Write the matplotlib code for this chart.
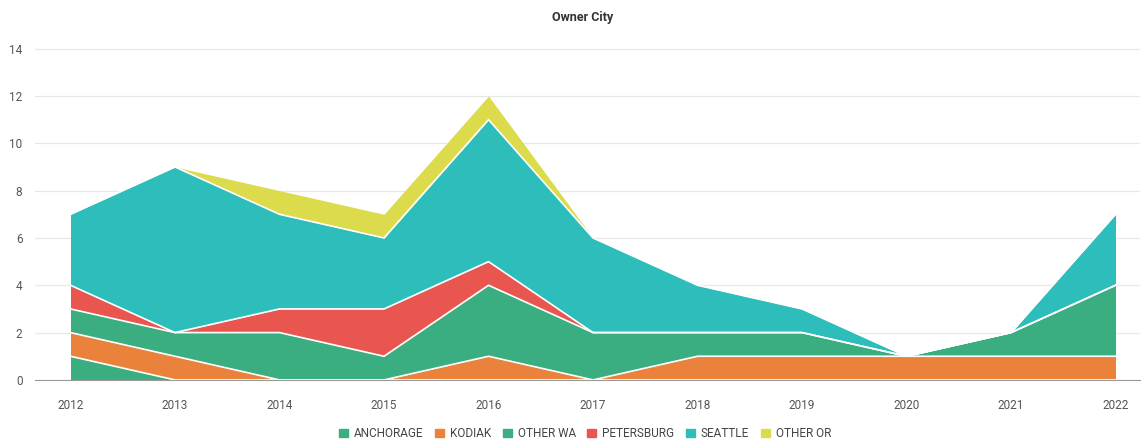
import matplotlib.pyplot as plt
import matplotlib.patches as mpatches
import numpy as np

plt.rcParams['font.family'] = ['Roboto', 'DejaVu Sans']

years = [2012, 2013, 2014, 2015, 2016, 2017, 2018, 2019, 2020, 2021, 2022]
anchorage = [1, 0, 0, 0, 0, 0, 0, 0, 0, 0, 0]
kodiak = [1, 1, 0, 0, 1, 0, 1, 1, 1, 1, 1]
other_wa = [1, 1, 2, 1, 3, 2, 1, 1, 0, 1, 3]
petersburg = [1, 0, 1, 2, 1, 0, 0, 0, 0, 0, 0]
seattle = [3, 7, 4, 3, 6, 4, 2, 1, 0, 0, 3]
other_or = [0, 0, 1, 1, 1, 0, 0, 0, 0, 0, 0]

names = ['ANCHORAGE', 'KODIAK', 'OTHER WA', 'PETERSBURG', 'SEATTLE', 'OTHER OR']
series = [anchorage, kodiak, other_wa, petersburg, seattle, other_or]
colors = ['#3aae80', '#ea823c', '#3aae80', '#e8564f', '#2dbdba', '#dcdb4c']

fig = plt.figure(figsize=(11.47, 4.48), dpi=100)
ax = fig.add_axes([0.0305, 0.152, 0.963, 0.742])

x = np.array(years)
base = np.zeros(len(years))
for vals, c in zip(series, colors):
    top = base + np.array(vals)
    ax.fill_between(x, base, top, color=c, linewidth=0, zorder=2)
    base = top

# white separators between the stacked layers
base = np.zeros(len(years))
for vals in series[:-1]:
    base = base + np.array(vals)
    ax.plot(x, base, color='white', lw=1.2, zorder=3)

ax.set_xlim(2011.66, 2022.23)
ax.set_ylim(0, 14.05)
ax.set_yticks(range(0, 15, 2))
ax.set_xticks(years)
ax.grid(axis='y', color='#e8e8e8', lw=0.9, zorder=0)
ax.set_axisbelow(True)
for s in ['top', 'right', 'left']:
    ax.spines[s].set_visible(False)
ax.spines['bottom'].set_color('#999999')
ax.spines['bottom'].set_zorder(5)
ax.tick_params(length=0, labelsize=8.5, labelcolor='#555555')
ax.tick_params(axis='x', pad=14)
ax.tick_params(axis='y', pad=9)

fig.text(0.508, 0.962, 'Owner City', ha='center', va='center',
         fontsize=9, fontweight='bold', color='#333333')

handles = [mpatches.Patch(color=c, label=n) for n, c in zip(names, colors)]
fig.legend(handles=handles, loc='center', bbox_to_anchor=(0.51, 0.032), ncol=6,
           frameon=False, fontsize=8.5, handlelength=0.75, handleheight=0.75,
           handletextpad=0.5, columnspacing=1.0, labelcolor='#444444')

fig.savefig('out.png', dpi=100)
